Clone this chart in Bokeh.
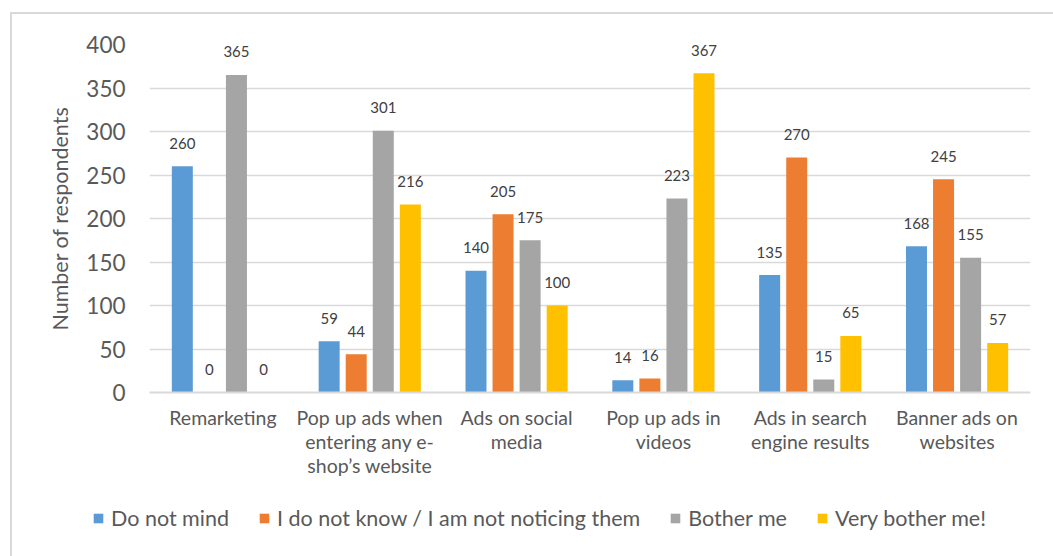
from bokeh.plotting import figure
from bokeh.layouts import column
from bokeh.models import ColumnDataSource, FactorRange, Range1d, FixedTicker, Legend, LegendItem
from bokeh.transform import dodge
from bokeh.core.properties import value
from bokeh.embed import file_html
from bokeh.resources import INLINE

categories = ["Remarketing", "Pop up ads when\nentering any e-\nshop\u2019s website", "Ads on social\nmedia",
              "Pop up ads in\nvideos", "Ads in search\nengine results", "Banner ads on\nwebsites"]
series_names = ["Do not mind", "I do not know / I am not noticing them", "Bother me", "Very bother me!"]
do_not_mind = [260, 59, 140, 14, 135, 168]
dont_know = [0, 44, 205, 16, 270, 245]
bother_me = [365, 301, 175, 223, 15, 155]
very_bother = [0, 216, 100, 367, 65, 57]
y_ticks = [0, 50, 100, 150, 200, 250, 300, 350, 400]

colors = ["#5B9BD5", "#ED7D31", "#A5A5A5", "#FFC000"]
FONT = "Lato"
TXT = "#595959"

src = ColumnDataSource(dict(
    cat=categories,
    s0=do_not_mind, s1=dont_know, s2=bother_me, s3=very_bother,
    l0=[str(v) for v in do_not_mind], l1=[str(v) for v in dont_know],
    l2=[str(v) for v in bother_me], l3=[str(v) for v in very_bother],
))

p = figure(width=1043, height=486, x_range=FactorRange(*categories), y_range=Range1d(0, 400),
           output_backend="svg", toolbar_location=None,
           min_border_left=137, min_border_right=25, min_border_top=30, min_border_bottom=108)
p.outline_line_color = None
p.background_fill_color = "white"
p.border_fill_color = "white"

step = 0.1843
width = 0.143
offsets = [-1.5 * step, -0.5 * step, 0.5 * step, 1.5 * step]
for i in range(4):
    p.vbar(x=dodge("cat", offsets[i], range=p.x_range), top="s%d" % i, width=width, source=src,
           fill_color=colors[i], line_color=None)
    p.text(x=dodge("cat", offsets[i], range=p.x_range), y="s%d" % i, text="l%d" % i, source=src,
           text_align="center", text_baseline="middle", y_offset=-23,
           text_font=value(FONT), text_font_size="15px", text_color="#404040")

p.yaxis.ticker = FixedTicker(ticks=y_ticks)
p.yaxis.axis_line_color = None
p.yaxis.major_tick_line_color = None
p.yaxis.minor_tick_line_color = None
p.yaxis.major_label_text_font = FONT
p.yaxis.major_label_text_font_size = "22.5px"
p.yaxis.major_label_text_color = TXT
p.yaxis.major_label_standoff = 18
p.yaxis.axis_label = "Number of respondents"
p.yaxis.axis_label_text_font = FONT
p.yaxis.axis_label_text_font_size = "21.5px"
p.yaxis.axis_label_text_font_style = "normal"
p.yaxis.axis_label_text_color = TXT
p.yaxis.axis_label_standoff = 10

p.xaxis.axis_line_color = "#d9d9d9"
p.xaxis.axis_line_width = 2
p.xaxis.major_tick_line_color = None
p.xaxis.minor_tick_line_color = None
p.xaxis.major_label_text_font = FONT
p.xaxis.major_label_text_font_size = "19.5px"
p.xaxis.major_label_text_color = TXT
p.xaxis.major_label_text_line_height = 1.05
p.xaxis.major_label_standoff = 7

p.xgrid.grid_line_color = None
p.ygrid.grid_line_color = "#d9d9d9"
p.ygrid.grid_line_width = 1.5

# legend strip: its own frame covers the whole strip, so the legend is not clipped;
# its bars use the same data but lie far outside the visible y window
leg = figure(width=1043, height=56, x_range=p.x_range, y_range=Range1d(100000, 100001),
             output_backend="svg", toolbar_location=None, x_axis_type=None, y_axis_type=None,
             min_border_left=0, min_border_right=0, min_border_top=0, min_border_bottom=0)
leg.frame_align = False
leg.outline_line_color = None
leg.xgrid.grid_line_color = None
leg.ygrid.grid_line_color = None
items = []
for i in range(4):
    r = leg.vbar(x=dodge("cat", offsets[i], range=p.x_range), top="s%d" % i, width=width, source=src,
                 fill_color=colors[i], line_color=None)
    items.append(LegendItem(label=series_names[i], renderers=[r]))
legend = Legend(items=items, orientation="horizontal", location=(80, 25),
                padding=0, margin=0, spacing=29, label_standoff=7,
                glyph_width=12, glyph_height=12, label_height=20,
                border_line_color=None, background_fill_alpha=0,
                label_text_font=FONT, label_text_font_size="21.5px", label_text_color=TXT)
leg.add_layout(legend, "center")

layout = column(p, leg, spacing=0, margin=(12, 0, 0, 10),
                styles={"border-left": "2px solid #d9d9d9", "border-top": "2px solid #d9d9d9"})

open("out.html", "w").write(file_html(layout, INLINE))
